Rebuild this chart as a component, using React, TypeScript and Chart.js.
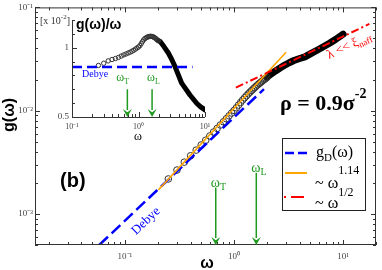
import React, { useEffect, useRef } from "react";
import { Chart, registerables } from "chart.js";

Chart.register(...registerables);

const SERIF = '"Liberation Serif", "Times New Roman", serif';
const SANS = '"Liberation Sans", Arial, sans-serif';

// ---------- main panel: g(omega) ----------
const circleOmega = [0.25, 0.3, 0.35, 0.4, 0.45, 0.5, 0.55, 0.6, 0.65, 0.7, 0.75, 0.8, 0.85, 0.9, 0.95, 1.0, 1.05, 1.1, 1.15, 1.2, 1.25, 1.3, 1.35, 1.4, 1.45, 1.5, 1.55, 1.6, 1.65, 1.7, 1.75, 1.8, 1.85, 1.9, 1.95, 2.0];
const circleG = [0.00218, 0.00266, 0.00317, 0.00366, 0.00415, 0.00465, 0.00517, 0.00569, 0.00621, 0.00673, 0.00726, 0.0078, 0.00835, 0.00891, 0.00948, 0.01005, 0.01066, 0.01133, 0.01202, 0.0127, 0.01333, 0.01394, 0.01453, 0.01511, 0.01568, 0.01623, 0.01677, 0.0173, 0.0178, 0.01829, 0.01876, 0.01922, 0.01967, 0.0201, 0.02053, 0.021];
const bandOmega = [2.0, 2.1, 2.4, 2.81, 3.2, 3.54, 4.0, 4.46, 5.0, 5.94, 7.5, 8.5, 10];
const bandG = [0.021, 0.02197, 0.02424, 0.02703, 0.02912, 0.03059, 0.032, 0.03318, 0.0355, 0.03914, 0.04493, 0.04888, 0.0551];
const debyeOmega = [0.0582, 1.88];
const debyeG = [0.0005, 0.01617];
const powOmega = [0.203, 3.0];
const powG = [0.00171, 0.0368];
const sqrtOmega = [1.04, 17.4];
const sqrtG = [0.0167, 0.0692];

// ---------- inset: g(omega)/omega [x 10^-2] ----------
const insetCircleRatio = [0.872, 0.888, 0.905, 0.915, 0.922, 0.93, 0.94, 0.948, 0.955, 0.962, 0.968, 0.975, 0.982, 0.99, 0.998, 1.005, 1.015, 1.03, 1.045, 1.058, 1.066, 1.072, 1.076, 1.079, 1.081, 1.082, 1.082, 1.081, 1.079, 1.076, 1.072, 1.068, 1.063, 1.058, 1.053, 1.05];
const insetBandRatio = [1.05, 1.046, 1.01, 0.962, 0.91, 0.864, 0.8, 0.744, 0.71, 0.659, 0.599, 0.575, 0.551];
const insetDebyeOmega = [0.1, 6.5];
const insetDebyeRatio = [0.86, 0.86];

// characteristic frequencies
const omegaT = 0.68;
const omegaL = 1.6;
const arrowTopG = [0.0018, 0.0025];
const insetArrowTop = 0.7;

// axis ranges
const mainX = [0.015, 20];
const mainY = [5e-4, 0.1];
const insetXR = [0.1, 10];
const insetYR = [0.5, 1.2];
const insetYLabels = [0.5, 1];

const GREEN = "#1f9a1f";
const BLUE = "#0000ff";
const RED = "#ff0000";
const ORANGE = "#ffa500";

const SUP: Record<string, string> = { "-": "\u207B", "0": "\u2070", "1": "\u00B9", "2": "\u00B2", "3": "\u00B3" };
function pow10Label(v: number): string {
  const e = Math.log10(v);
  const r = Math.round(e);
  if (Math.abs(e - r) > 1e-6) return "";
  return "10" + String(r).split("").map((c) => SUP[c] ?? c).join("");
}

function logTicks(min: number, max: number) {
  const out: { v: number; major: boolean }[] = [];
  for (let e = Math.floor(Math.log10(min)); e <= Math.ceil(Math.log10(max)); e++) {
    for (let k = 1; k <= 9; k++) {
      const v = k * Math.pow(10, e);
      if (v >= min * 0.9999 && v <= max * 1.0001) out.push({ v, major: k === 1 });
    }
  }
  return out;
}

type Part = { t: string; size: number; dy?: number; bold?: boolean; family?: string };
function drawParts(ctx: CanvasRenderingContext2D, x: number, y: number, parts: Part[], color: string) {
  let cx = x;
  ctx.fillStyle = color;
  ctx.textAlign = "left";
  ctx.textBaseline = "alphabetic";
  for (const p of parts) {
    ctx.font = `${p.bold ? "bold " : ""}${p.size}px ${p.family ?? SERIF}`;
    ctx.fillText(p.t, cx, y + (p.dy ?? 0));
    cx += ctx.measureText(p.t).width;
  }
  return cx;
}

function arrow(ctx: CanvasRenderingContext2D, x: number, yTop: number, yBot: number, color: string, lw: number, hw: number, hh: number) {
  ctx.save();
  ctx.strokeStyle = color;
  ctx.fillStyle = color;
  ctx.lineWidth = lw;
  ctx.beginPath();
  ctx.moveTo(x, yTop);
  ctx.lineTo(x, yBot - hh + 1);
  ctx.stroke();
  ctx.beginPath();
  ctx.moveTo(x - hw / 2, yBot - hh);
  ctx.lineTo(x, yBot - hh * 0.6);
  ctx.lineTo(x + hw / 2, yBot - hh);
  ctx.lineTo(x, yBot);
  ctx.closePath();
  ctx.fill();
  ctx.restore();
}

const pts = (xs: number[], ys: number[]) => xs.map((x, i) => ({ x, y: ys[i] }));

const mainPlugin = {
  id: "mainDecor",
  afterDraw(chart: any) {
    const ctx: CanvasRenderingContext2D = chart.ctx;
    const { left, right, top, bottom } = chart.chartArea;
    const sx = chart.scales.x;
    const sy = chart.scales.y;
    ctx.save();
    // frame
    ctx.strokeStyle = "#333";
    ctx.lineWidth = 1;
    ctx.strokeRect(left + 0.5, top + 0.5, right - left - 1, bottom - top - 1);
    // inward ticks
    ctx.beginPath();
    for (const t of logTicks(mainX[0], mainX[1])) {
      const px = Math.round(sx.getPixelForValue(t.v)) + 0.5;
      const L = t.major ? 5 : 3;
      ctx.moveTo(px, bottom); ctx.lineTo(px, bottom - L);
      ctx.moveTo(px, top); ctx.lineTo(px, top + L);
    }
    for (const t of logTicks(mainY[0], mainY[1])) {
      const py = Math.round(sy.getPixelForValue(t.v)) + 0.5;
      const L = t.major ? 5 : 3;
      ctx.moveTo(left, py); ctx.lineTo(left + L, py);
      ctx.moveTo(right, py); ctx.lineTo(right - L, py);
    }
    ctx.stroke();

    // arrows
    const omegas = [omegaT, omegaL];
    const subs = ["T", "L"];
    omegas.forEach((w, i) => {
      const x = sx.getPixelForValue(w);
      const yT = sy.getPixelForValue(arrowTopG[i]);
      arrow(ctx, x, yT, bottom, GREEN, 1.5, 9, 8);
      drawParts(ctx, x - 5, yT - 1, [{ t: "\u03C9", size: 14 }, { t: subs[i], size: 10, dy: 3 }], GREEN);
    });

    // Debye label
    ctx.save();
    ctx.translate(146, 221);
    ctx.rotate(-43.4 * Math.PI / 180);
    ctx.fillStyle = BLUE;
    ctx.font = `13px ${SERIF}`;
    ctx.textAlign = "center";
    ctx.textBaseline = "middle";
    ctx.fillText("Debye", 0, 0);
    ctx.restore();

    // lambda << xi_naff
    ctx.save();
    ctx.translate(329, 59);
    ctx.rotate(-25 * Math.PI / 180);
    drawParts(ctx, 0, 0, [{ t: "\u03BB << \u03BE", size: 13 }, { t: "naff", size: 9, dy: 3 }], RED);
    ctx.restore();

    // (b)
    drawParts(ctx, 60, 187, [{ t: "(b)", size: 20, bold: true, family: SANS }], "#000");
    // rho
    drawParts(ctx, 280, 110, [{ t: "\u03C1 = 0.9\u03C3", size: 22, bold: true }, { t: "-2", size: 14, bold: true, dy: -12 }], "#000");

    // axis titles
    ctx.save();
    ctx.translate(10, 115);
    ctx.rotate(-Math.PI / 2);
    ctx.font = `bold 16px ${SANS}`;
    ctx.fillStyle = "#000";
    ctx.textAlign = "center";
    ctx.textBaseline = "middle";
    ctx.fillText("g(\u03C9)", 0, 0);
    ctx.restore();
    ctx.font = `bold 16px ${SANS}`;
    ctx.fillStyle = "#000";
    ctx.textAlign = "center";
    ctx.textBaseline = "alphabetic";
    ctx.fillText("\u03C9", 207, 268);

    // legend
    const bx = 282, by = 138, bw = 83, bh = 72;
    ctx.fillStyle = "#fff";
    ctx.fillRect(bx, by, bw, bh);
    ctx.strokeStyle = "#222";
    ctx.lineWidth = 1;
    ctx.strokeRect(bx + 0.5, by + 0.5, bw, bh);
    ctx.lineWidth = 2.5;
    ctx.strokeStyle = BLUE;
    ctx.setLineDash([9, 4]);
    ctx.beginPath(); ctx.moveTo(285, 153); ctx.lineTo(307, 153); ctx.stroke();
    ctx.setLineDash([]);
    ctx.lineWidth = 2;
    ctx.strokeStyle = ORANGE;
    ctx.beginPath(); ctx.moveTo(285, 173); ctx.lineTo(307, 173); ctx.stroke();
    ctx.strokeStyle = RED;
    ctx.setLineDash([2, 5, 13, 4]);
    ctx.beginPath(); ctx.moveTo(284, 197); ctx.lineTo(307, 197); ctx.stroke();
    ctx.setLineDash([]);
    drawParts(ctx, 316, 157, [{ t: "g", size: 16 }, { t: "D", size: 11, dy: 4 }, { t: "(\u03C9)", size: 16 }], "#000");
    drawParts(ctx, 315, 188, [{ t: "~ \u03C9", size: 16 }, { t: "1.14", size: 12, dy: -14 }], "#000");
    drawParts(ctx, 315, 208, [{ t: "~ \u03C9", size: 16 }, { t: "1/2", size: 12, dy: -12 }], "#000");
    ctx.restore();
  },
};

const insetPlugin = {
  id: "insetDecor",
  afterDraw(chart: any) {
    const ctx: CanvasRenderingContext2D = chart.ctx;
    const { left, right, top, bottom } = chart.chartArea;
    const sx = chart.scales.x;
    const sy = chart.scales.y;
    ctx.save();
    ctx.strokeStyle = "#333";
    ctx.lineWidth = 1;
    ctx.beginPath();
    ctx.moveTo(left + 0.5, top); ctx.lineTo(left + 0.5, bottom + 0.5); ctx.lineTo(right, bottom + 0.5);
    for (const t of logTicks(insetXR[0], insetXR[1])) {
      const px = Math.round(sx.getPixelForValue(t.v)) + 0.5;
      const L = t.major ? 5 : 3;
      ctx.moveTo(px, bottom); ctx.lineTo(px, bottom - L);
    }
    for (let v = insetYR[0]; v <= insetYR[1] + 1e-9; v += 0.1) {
      const py = Math.round(sy.getPixelForValue(v)) + 0.5;
      const major = insetYLabels.some((l) => Math.abs(l - v) < 1e-6);
      ctx.moveTo(left, py); ctx.lineTo(left + (major ? 5 : 3), py);
    }
    ctx.stroke();

    const omegas = [omegaT, omegaL];
    const subs = ["T", "L"];
    const offs = [-11, -5];
    omegas.forEach((w, i) => {
      const x = sx.getPixelForValue(w);
      const yT = sy.getPixelForValue(insetArrowTop);
      arrow(ctx, x, yT, bottom, GREEN, 1.5, 9, 8);
      drawParts(ctx, x + offs[i], yT - 8, [{ t: "\u03C9", size: 12 }, { t: subs[i], size: 8, dy: 3 }], GREEN);
    });

    drawParts(ctx, 42, 67, [{ t: "Debye", size: 10 }], BLUE);
    drawParts(ctx, 0, 14, [{ t: "[x 10", size: 10 }, { t: "-2", size: 7, dy: -5 }, { t: "]", size: 10 }], "#333");
    drawParts(ctx, 36, 19, [{ t: "g(\u03C9)/\u03C9", size: 14, bold: true, family: SANS }], "#000");
    ctx.font = `12px ${SERIF}`;
    ctx.fillStyle = "#000";
    ctx.textAlign = "center";
    ctx.textBaseline = "alphabetic";
    ctx.fillText("\u03C9", 98, 130);
    ctx.restore();
  },
};

export default function App() {
  const mainRef = useRef<HTMLCanvasElement>(null);
  const insetRef = useRef<HTMLCanvasElement>(null);

  useEffect(() => {
    const tickFont = { family: SERIF, size: 9 };
    const main = new Chart(mainRef.current!, {
      type: "scatter",
      data: {
        datasets: [
          { data: pts(sqrtOmega, sqrtG), showLine: true, pointRadius: 0, borderColor: RED, borderWidth: 2, borderDash: [8, 3, 2, 3], order: 0 },
          { data: pts(powOmega, powG), showLine: true, pointRadius: 0, borderColor: ORANGE, borderWidth: 1.6, order: 1 },
          { data: pts(debyeOmega, debyeG), showLine: true, pointRadius: 0, borderColor: BLUE, borderWidth: 2.5, borderDash: [12, 5], order: 2 },
          { data: pts(circleOmega, circleG), showLine: false, pointRadius: 3.3, pointBorderWidth: 1, pointBorderColor: "#333", pointBackgroundColor: "rgba(0,0,0,0)", order: 3 },
          { data: pts(bandOmega, bandG), showLine: true, pointRadius: 0, borderColor: "#000", borderWidth: 7, borderCapStyle: "round", borderJoinStyle: "round", order: 4 },
        ],
      } as any,
      options: {
        animation: false,
        responsive: false,
        events: [],
        layout: { padding: { top: 5, right: 2, left: 0, bottom: 0 } },
        plugins: { legend: { display: false }, tooltip: { enabled: false } },
        scales: {
          x: {
            type: "logarithmic", min: mainX[0], max: mainX[1],
            grid: { display: false, drawTicks: false }, border: { display: false },
            ticks: { autoSkip: false, maxRotation: 0, padding: 6, color: "#444", font: tickFont, callback: (v: any) => pow10Label(Number(v)) },
            afterFit: (s: any) => { s.height = 25; },
          },
          y: {
            type: "logarithmic", min: mainY[0], max: mainY[1],
            grid: { display: false, drawTicks: false }, border: { display: false },
            ticks: { autoSkip: false, padding: 2, color: "#444", font: tickFont, callback: (v: any) => pow10Label(Number(v)) },
            afterFit: (s: any) => { s.width = 35; },
          },
        },
      } as any,
      plugins: [mainPlugin],
    });

    const inset = new Chart(insetRef.current!, {
      type: "scatter",
      data: {
        datasets: [
          { data: pts(insetDebyeOmega, insetDebyeRatio), showLine: true, pointRadius: 0, borderColor: BLUE, borderWidth: 2.5, borderDash: [10, 5], order: 0 },
          { data: pts(circleOmega, insetCircleRatio), showLine: false, pointRadius: 2.2, pointBorderWidth: 1, pointBorderColor: "#333", pointBackgroundColor: "rgba(0,0,0,0)", order: 1 },
          { data: pts(bandOmega, insetBandRatio), showLine: true, pointRadius: 0, borderColor: "#000", borderWidth: 5, borderCapStyle: "round", borderJoinStyle: "round", order: 2 },
        ],
      } as any,
      options: {
        animation: false,
        responsive: false,
        events: [],
        layout: { padding: { top: 10, right: 15, left: 0, bottom: 0 } },
        plugins: { legend: { display: false }, tooltip: { enabled: false } },
        scales: {
          x: {
            type: "logarithmic", min: insetXR[0], max: insetXR[1],
            grid: { display: false, drawTicks: false }, border: { display: false },
            ticks: { autoSkip: false, maxRotation: 0, padding: 5, color: "#444", font: { family: SERIF, size: 8 }, callback: (v: any) => pow10Label(Number(v)) },
            afterFit: (s: any) => { s.height = 28; },
          },
          y: {
            type: "linear", min: insetYR[0], max: insetYR[1],
            grid: { display: false, drawTicks: false }, border: { display: false },
            ticks: {
              stepSize: 0.1, autoSkip: false, padding: 3, color: "#444", font: { family: SERIF, size: 9 },
              callback: (v: any) => {
                const n = Number(v);
                const hit = insetYLabels.find((l) => Math.abs(l - n) < 1e-6);
                return hit === undefined ? "" : String(hit);
              },
            },
            afterFit: (s: any) => { s.width = 32; },
          },
        },
      } as any,
      plugins: [insetPlugin],
    });

    return () => {
      main.destroy();
      inset.destroy();
    };
  }, []);

  return (
    <div style={{ position: "fixed", left: 0, top: 0, width: 382, height: 270, background: "#fff", overflow: "hidden" }}>
      <canvas ref={mainRef} width={382} height={270} style={{ position: "absolute", left: 0, top: 0, width: 382, height: 270 }} />
      <canvas ref={insetRef} width={180} height={135} style={{ position: "absolute", left: 40, top: 10, width: 180, height: 135 }} />
    </div>
  );
}
